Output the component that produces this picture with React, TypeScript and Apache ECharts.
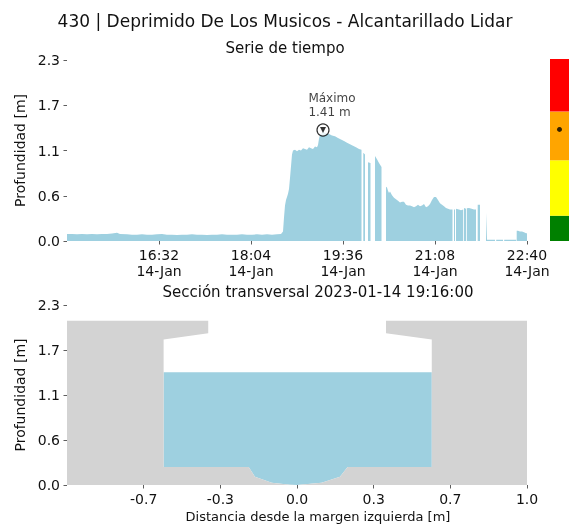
import React, { useEffect, useRef } from 'react';
import * as echarts from 'echarts';

const FONT = 'DejaVu Sans';
const TEXT = '#111111';
const WATER = '#9ED0E0';
const WALL = '#D3D3D3';

// Time series: minutes after 15:00 (2023-01-14), depth in m; null = no reading
const readings: [number, number | null][] = [
  [0, 0.09], [5, 0.09], [10, 0.085], [15, 0.09], [20, 0.085], [25, 0.09], [30, 0.085], [35, 0.09],
  [40, 0.09], [45, 0.095], [50, 0.105], [53, 0.09], [60, 0.085], [65, 0.08], [70, 0.08], [75, 0.085],
  [80, 0.08], [85, 0.08], [90, 0.085], [95, 0.09], [100, 0.08], [105, 0.08], [110, 0.075], [115, 0.08],
  [120, 0.08], [125, 0.085], [130, 0.08], [135, 0.08], [140, 0.075], [145, 0.08], [150, 0.08], [155, 0.085],
  [160, 0.08], [165, 0.08], [170, 0.08], [175, 0.085], [180, 0.08], [185, 0.08], [190, 0.085], [195, 0.08],
  [200, 0.085], [205, 0.08], [210, 0.085], [214, 0.09], [216, 0.12], [217, 0.3], [218, 0.45], [219, 0.52],
  [220, 0.56], [221, 0.6], [222, 0.66], [223, 0.8], [224, 0.95], [225, 1.1], [226, 1.15], [228, 1.16],
  [230, 1.14], [232, 1.16], [234, 1.15], [236, 1.18], [238, 1.17], [240, 1.16], [242, 1.19], [244, 1.18],
  [246, 1.17], [248, 1.2], [250, 1.19], [251, 1.22], [252, 1.3], [253, 1.35], [255, 1.37], [256, 1.41],
  [257, 1.38], [259, 1.37], [262, 1.36], [265, 1.34], [268, 1.33], [271, 1.31], [274, 1.29], [277, 1.27],
  [280, 1.25], [283, 1.23], [286, 1.21], [289, 1.19], [292, 1.17], [294.5, 1.16],
  [295.5, null],
  [296.3, 1.12], [298, 1.1],
  [299.5, null],
  [301, 1.0], [303.5, 0.99],
  [305.5, null],
  [308, 1.08], [310, 1.04], [312, 0.99], [314.5, 0.94],
  [316.5, null],
  [319, 0.69], [320, 0.68], [321, 0.64], [322, 0.61], [323, 0.63], [325, 0.58], [327, 0.55], [329, 0.53],
  [331, 0.51], [333, 0.49], [335, 0.5], [337, 0.5], [339, 0.46], [341, 0.45], [343, 0.45], [345, 0.44],
  [347, 0.43], [349, 0.44], [351, 0.46], [353, 0.44], [355, 0.45], [357, 0.47], [359, 0.43], [361, 0.44],
  [363, 0.47], [365, 0.52], [367, 0.56], [369, 0.56], [371, 0.52], [373, 0.48], [375, 0.46], [377, 0.44],
  [379, 0.42], [381, 0.41], [383, 0.4], [385.5, 0.4],
  [386.3, null],
  [387, 0.4], [388, 0.4],
  [388.5, null],
  [389, 0.41], [392, 0.4], [394, 0.39], [396.2, 0.4],
  [396.6, null],
  [397, 0.42], [399, 0.41],
  [399.4, null],
  [399.8, 0.415], [402, 0.42], [404.7, 0.41], [407, 0.4], [409, 0.4],
  [409.8, null],
  [410.7, 0.46], [413, 0.46],
  [416, null],
  [419, 0.36], [419.6, 0.36], [420, 0.015], [428, 0.015],
  [428.6, null],
  [429.2, 0.015], [436, 0.015],
  [436.6, null],
  [437.2, 0.015], [449.2, 0.015],
  [449.5, null],
  [449.7, 0.13], [451, 0.13], [453, 0.12], [455, 0.12], [457, 0.11], [459, 0.1], [460, 0.1],
];

const timeTicks = [92, 184, 276, 368, 460];
const timeTickLabels = ['16:32\n14-Jan', '18:04\n14-Jan', '19:36\n14-Jan', '21:08\n14-Jan', '22:40\n14-Jan'];
const depthTicks = [0, 0.575, 1.15, 1.725, 2.3];
const depthTickLabels = ['0.0', '0.6', '1.1', '1.7', '2.3'];

const maxMinute = 256;
const maxDepth = 1.41;

// Alert bar: upper limit of each band (m) and its colour
const alertLimits = [0.32, 1.02, 1.635, 2.3];
const alertColors = ['#008000', '#FFFF00', '#FFA500', '#FF0000'];
const currentLevel = 1.41;

// Cross-section (distance from left bank [m], elevation [m])
const sectionX = [-1, -1, -0.386, -0.386, -0.58, -0.58, -0.21, -0.183, -0.11, -0.03, 0, 0.107, 0.187, 0.22, 0.586, 0.586, 0.387, 0.387, 1, 1];
const sectionY = [0, 2.1, 2.1, 1.94, 1.86, 0.23, 0.23, 0.107, 0.03, 0.002, 0, 0.03, 0.107, 0.23, 0.23, 1.86, 1.94, 2.1, 2.1, 0];
const channelFirst = 5;
const channelLast = 14;
const waterLevel = 1.44;

const distTicks = [-2 / 3, -1 / 3, 0, 1 / 3, 2 / 3, 1];
const distTickLabels = ['-0.7', '-0.3', '0.0', '0.3', '0.7', '1.0'];

const lookup = (ticks: number[], labels: string[]) => (v: number) => {
  const i = ticks.findIndex((t) => Math.abs(t - v) < 1e-6);
  return i >= 0 ? labels[i] : '';
};

const labelStyle = { color: TEXT, fontFamily: FONT, fontSize: 14 };
const tickStyle = { show: true, length: 3.5, lineStyle: { color: '#333', width: 0.8 } };
const noLine = { show: false, onZero: false };

export default function App() {
  const ref = useRef<HTMLDivElement>(null);

  useEffect(() => {
    if (!ref.current) return;
    const chart = echarts.init(ref.current, undefined, { renderer: 'svg' });

    const lineData = readings.map(([m, d]) => [m, d === null ? '-' : d]);

    const bands = alertLimits.map((lim, i) => lim - (i === 0 ? 0 : alertLimits[i - 1]));

    const wallPoints = sectionX.map((x, i) => [x, sectionY[i]]);
    const waterPoints: number[][] = [[sectionX[channelFirst], waterLevel]];
    for (let i = channelFirst; i <= channelLast; i++) waterPoints.push([sectionX[i], sectionY[i]]);
    waterPoints.push([sectionX[channelLast], waterLevel]);

    const polygonSeries = (pts: number[][], fill: string) => ({
      type: 'custom',
      xAxisIndex: 2,
      yAxisIndex: 2,
      data: [[0, 0]],
      silent: true,
      renderItem: (_p: any, api: any) => ({
        type: 'polygon',
        shape: { points: pts.map((p) => api.coord(p)) },
        style: { fill, stroke: null },
      }),
    });

    chart.setOption({
      animation: false,
      textStyle: { fontFamily: FONT },
      graphic: [
        {
          type: 'text', x: 285, y: 21,
          style: { text: '430 | Deprimido De Los Musicos - Alcantarillado Lidar', fill: TEXT, font: `17px "${FONT}"`, textAlign: 'center', textVerticalAlign: 'middle' },
        },
        {
          type: 'text', x: 285, y: 48,
          style: { text: 'Serie de tiempo', fill: TEXT, font: `15px "${FONT}"`, textAlign: 'center', textVerticalAlign: 'middle' },
        },
        {
          type: 'text', x: 318, y: 292,
          style: { text: 'Sección transversal 2023-01-14 19:16:00', fill: TEXT, font: `15px "${FONT}"`, textAlign: 'center', textVerticalAlign: 'middle' },
        },
      ],
      grid: [
        { left: 67, top: 60, width: 460, height: 181 },
        { left: 550, top: 59, width: 19, height: 182 },
        { left: 67, top: 305, width: 460, height: 180 },
      ],
      xAxis: [
        {
          type: 'value', gridIndex: 0, min: 0, max: 460,
          axisLine: noLine, splitLine: { show: false },
          axisTick: { ...tickStyle, customValues: timeTicks },
          axisLabel: { ...labelStyle, customValues: timeTicks, formatter: lookup(timeTicks, timeTickLabels), margin: 6, lineHeight: 16 },
        },
        {
          type: 'category', gridIndex: 1, data: ['nivel'], show: false,
        },
        {
          type: 'value', gridIndex: 2, min: -1, max: 1,
          axisLine: noLine, splitLine: { show: false },
          axisTick: { ...tickStyle, customValues: distTicks },
          axisLabel: { ...labelStyle, customValues: distTicks, formatter: lookup(distTicks, distTickLabels), margin: 7 },
          name: 'Distancia desde la margen izquierda [m]',
          nameLocation: 'middle', nameGap: 25,
          nameTextStyle: { color: TEXT, fontFamily: FONT, fontSize: 13, padding: [0, 0, 0, 42] },
        },
      ],
      yAxis: [
        {
          type: 'value', gridIndex: 0, min: 0, max: 2.3,
          axisLine: noLine, splitLine: { show: false },
          axisTick: { ...tickStyle, customValues: depthTicks },
          axisLabel: { ...labelStyle, customValues: depthTicks, formatter: lookup(depthTicks, depthTickLabels), margin: 7 },
          name: 'Profundidad [m]', nameLocation: 'middle', nameGap: 36,
          nameTextStyle: { color: TEXT, fontFamily: FONT, fontSize: 14 },
        },
        { type: 'value', gridIndex: 1, min: 0, max: 2.3, show: false },
        {
          type: 'value', gridIndex: 2, min: 0, max: 2.3,
          axisLine: noLine, splitLine: { show: false },
          axisTick: { ...tickStyle, customValues: depthTicks },
          axisLabel: { ...labelStyle, customValues: depthTicks, formatter: lookup(depthTicks, depthTickLabels), margin: 7 },
          name: 'Profundidad [m]', nameLocation: 'middle', nameGap: 36,
          nameTextStyle: { color: TEXT, fontFamily: FONT, fontSize: 14 },
        },
      ],
      series: [
        {
          type: 'line', xAxisIndex: 0, yAxisIndex: 0, data: lineData,
          showSymbol: false, connectNulls: false, silent: true,
          lineStyle: { width: 0 },
          areaStyle: { color: WATER, opacity: 1 },
        },
        {
          type: 'scatter', xAxisIndex: 0, yAxisIndex: 0, data: [[maxMinute, maxDepth]],
          symbol: 'circle', symbolSize: 12, silent: true, z: 5,
          itemStyle: { color: '#ffffff', borderColor: '#000000', borderWidth: 1.2 },
          label: {
            show: true, position: [-8, -32], align: 'left', verticalAlign: 'top',
            formatter: `Máximo\n${maxDepth.toFixed(2)} m`,
            color: TEXT, fontFamily: FONT, fontSize: 12, lineHeight: 14,
          },
        },
        {
          type: 'scatter', xAxisIndex: 0, yAxisIndex: 0, data: [[maxMinute, maxDepth]],
          symbol: 'triangle', symbolRotate: 180, symbolSize: 6, silent: true, z: 6,
          itemStyle: { color: '#000000' },
        },
        ...bands.map((b, i) => ({
          type: 'bar', xAxisIndex: 1, yAxisIndex: 1, stack: 'alert', data: [b],
          barWidth: '100%', silent: true,
          itemStyle: { color: alertColors[i] },
        })),
        {
          type: 'scatter', xAxisIndex: 1, yAxisIndex: 1, data: [['nivel', currentLevel]],
          symbolSize: 5, silent: true, z: 5, itemStyle: { color: '#000000' },
        },
        polygonSeries(waterPoints, WATER),
        polygonSeries(wallPoints, WALL),
      ],
    });

    return () => chart.dispose();
  }, []);

  return <div ref={ref} style={{ position: 'fixed', left: 0, top: 0, width: 582, height: 526 }} />;
}
